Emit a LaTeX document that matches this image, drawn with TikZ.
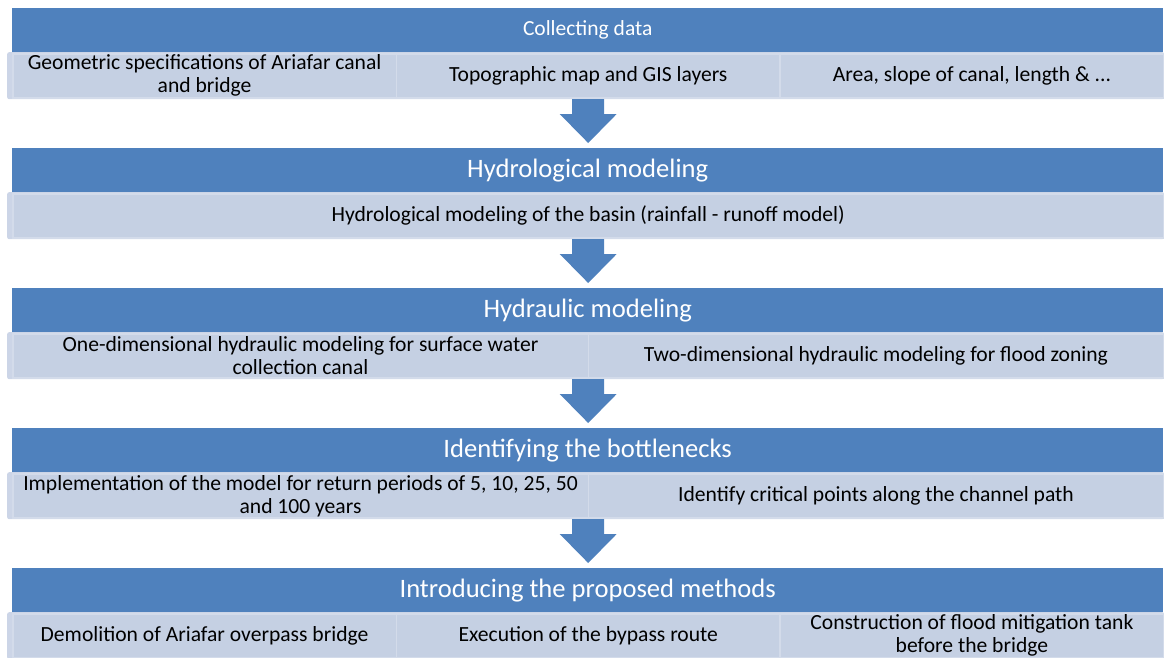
\documentclass[tikz,border=0pt]{standalone}
\usepackage{fontspec}
\setmainfont{Carlito}
\usetikzlibrary{calc}
\definecolor{accent}{HTML}{4F81BD}
\definecolor{lightbox}{HTML}{C5D0E3}
\definecolor{lightedge}{HTML}{D3DBEA}
\definecolor{container}{HTML}{CCD5E7}
\tikzset{
  header/.style={fill=accent, draw=none, minimum width=1151pt, minimum height=44pt,
    inner sep=0pt, text=white, anchor=north west, font=\fontsize{26.6}{30}\selectfont},
  smallheader/.style={header, font=\fontsize{21.5}{24}\selectfont},
  cont/.style={fill=container, draw=none, rounded corners=2pt, minimum width=1157pt,
    minimum height=47pt, inner sep=0pt, anchor=north west},
  sub/.style={fill=lightbox, draw=lightedge, line width=1.5pt, minimum height=44pt,
    inner sep=0pt, anchor=north west, align=center, text=black,
    font=\fontsize{21.6}{23}\selectfont},
  subthird/.style={sub, minimum width=383.67pt},
  subhalf/.style={sub, minimum width=575.5pt},
  subfull/.style={sub, minimum width=1151pt},
}
\newcommand\flowarrow[1]{%
  \fill[accent] ($(#1.north)+(0.5,-5)$) -- ++(-28.5,-29) -- ++(12.5,0) -- ++(0,-15)
    -- ++(32,0) -- ++(0,15) -- ++(12.5,0) -- cycle;}
\begin{document}
\begin{tikzpicture}[x=1pt,y=-1pt]
\useasboundingbox (0,0) rectangle (1164,657);
% Block 1
\node[smallheader] (h1) at (12,8) {Collecting data};
\node[cont] (c1) at (7,52) {};
\node[subthird] (s11) at (12,53) {Geometric specifications of Ariafar canal\\and bridge};
\node[subthird] (s12) at (395.67,53) {Topographic map and GIS layers};
\node[subthird] (s13) at (779.33,53) {Area, slope of canal, length \& ...};
% Block 2
\node[header] (h2) at (12,148) {Hydrological modeling};
\node[cont] (c2) at (7,192) {};
\node[subfull] (s21) at (12,193) {Hydrological modeling of the basin (rainfall - runoff model)};
% Block 3
\node[header] (h3) at (12,288) {Hydraulic modeling};
\node[cont] (c3) at (7,332) {};
\node[subhalf] (s31) at (12,333) {One-dimensional hydraulic modeling for surface water\\collection canal};
\node[subhalf] (s32) at (587.5,333) {Two-dimensional hydraulic modeling for flood zoning};
% Block 4
\node[header] (h4) at (12,428) {Identifying the bottlenecks};
\node[cont] (c4) at (7,472) {};
\node[subhalf] (s41) at (12,473) {Implementation of the model for return periods of 5, 10, 25, 50\\and 100 years};
\node[subhalf] (s42) at (587.5,473) {Identify critical points along the channel path};
% Block 5
\node[header] (h5) at (12,568) {Introducing the proposed methods};
\node[cont] (c5) at (7,612) {};
\node[subthird] (s51) at (12,613) {Demolition of Ariafar overpass bridge};
\node[subthird] (s52) at (395.67,613) {Execution of the bypass route};
\node[subthird] (s53) at (779.33,613) {Construction of flood mitigation tank\\before the bridge};
% Arrows
\flowarrow{h2}
\flowarrow{h3}
\flowarrow{h4}
\flowarrow{h5}
\end{tikzpicture}
\end{document}
